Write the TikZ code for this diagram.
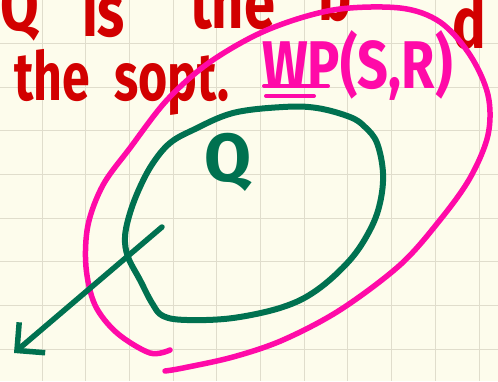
\documentclass[tikz,border=0pt]{standalone}
\usepackage{fontspec}
\setmainfont{Fira Sans}
\usetikzlibrary{arrows.meta}
\definecolor{rouge}{HTML}{D20000}
\definecolor{rose}{HTML}{FF0AA8}
\definecolor{vert}{HTML}{007150}
\definecolor{papier}{HTML}{FDFCEC}
\definecolor{grille}{HTML}{E0DDCC}
\begin{document}
\begin{tikzpicture}[x=1pt,y=-1pt]
	% Styles (MODIFIABLES)
	\tikzstyle{trait}=[line width=5.5pt,line cap=round,line join=round]
	\tikzstyle{fleche}=[trait,vert,-{Straight Barb[length=20pt,width=40pt,line width=5.5pt]}]
	\tikzstyle{ecriture}=[inner sep=0pt,anchor=base west,font=\bfseries]
	\tikzstyle{rouge56}=[ecriture,rouge,font=\bfseries\fontsize{56}{60}\selectfont,yscale=1.3]
	\tikzstyle{rouge50}=[ecriture,rouge,font=\bfseries\fontsize{50}{60}\selectfont,yscale=1.35]
	% Dimensions (MODIFIABLES)
	\def\PasGrille{43.7}
	% Fond et grille
	\useasboundingbox (0,0) rectangle (498,381);
	\fill[papier] (0,0) rectangle (498,381);
	\clip (0,0) rectangle (498,381);
	\foreach \i in {0,...,10} \draw[grille,line width=1pt] ({42+\PasGrille*\i},0) -- ++(0,381);
	\foreach \j in {0,...,7} \draw[grille,line width=1pt] (0,{43.4+\PasGrille*\j}) -- ++(498,0);
	% Texte rouge
	\node[rouge56] (motQ) at (0,30) {Q};
	\node[rouge56] (motIs) at (82,36) {is};
	\node[rouge56] (motThe) at (190,28) {the};
	\node[rouge56] (motB) at (318,20) {b};
	\node[rouge56] (motD) at (452,48) {d};
	\node[rouge50] (motThe2) at (14,100) {the};
	\node[rouge50] (motSopt) at (114,100) {sopt.};
	% Ensemble WP(S,R)
	\node[ecriture,rose,font=\bfseries\fontsize{54}{60}\selectfont,yscale=1.25] (wp) at (262,88) {WP(S,R)};
	\draw[trait,rose,line width=4pt] (264,86) -- (328,86);
	\draw[trait,rose,line width=4pt] (266,96) -- (314,96);
	\draw[trait,rose] plot[smooth,tension=0.55] coordinates {(170,350) (150,353) (117,333) (95,305) (86,267) (88,225) (103,185) (130,148) (167,100) (210,62) (267,30) (333,10) (400,8) (440,22) (470,55) (488,95) (488,135) (470,178) (440,220) (400,265) (340,310) (283,340) (233,357) (183,368) (165,371)};
	% Ensemble Q
	\draw[trait,vert,line width=6pt] plot[smooth cycle,tension=0.6] coordinates {(163,316) (187,320) (233,318) (283,307) (317,290) (350,260) (370,230) (380,203) (383,173) (377,143) (365,127) (350,117) (317,108) (283,107) (233,113) (193,130) (170,143) (153,163) (140,187) (130,213) (125,237) (128,257) (140,280) (152,303)};
	\node[vert,font=\bfseries\fontsize{68}{70}\selectfont] (Q) at (228,162) {Q};
	% Fleche
	\coordinate (depart) at (162,227);
	\coordinate (arrivee) at (14,353);
	\draw[fleche] (depart)--(arrivee);
\end{tikzpicture}
\end{document}
